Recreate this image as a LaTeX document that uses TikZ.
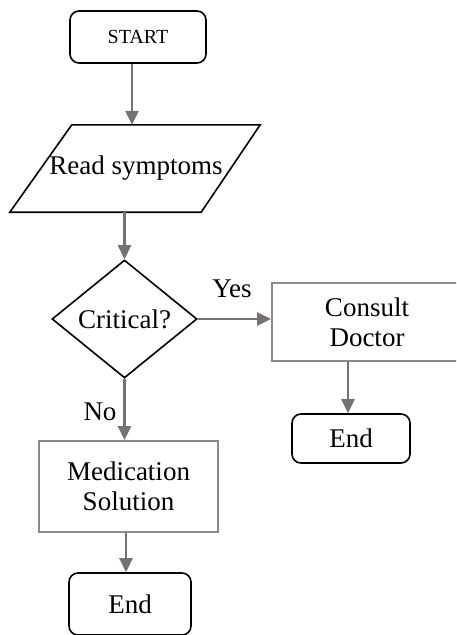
\documentclass[tikz,border=0pt]{standalone}
\usepackage{fontspec}
\setmainfont{Liberation Serif}
\usetikzlibrary{shapes.geometric,arrows.meta,calc}
\definecolor{arrgray}{HTML}{767171}
\definecolor{boxgray}{HTML}{8A8A8A}
\tikzset{
  term/.style={draw=black, line width=1.6pt, rounded corners=9pt, rectangle, inner sep=0pt, font=\fontsize{27}{30}\selectfont},
  procbox/.style={draw=boxgray, line width=2pt, rectangle, inner sep=0pt, align=center, font=\fontsize{27}{30}\selectfont},
  decis/.style={draw=black, line width=1.6pt, diamond, inner sep=0pt, font=\fontsize{27}{30}\selectfont},
  plain/.style={inner sep=0pt, font=\fontsize{27}{30}\selectfont},
  arr/.style={draw=arrgray, line width=2.6pt, -{Triangle[length=14pt,width=13pt]}},
  lbl/.style={inner sep=0pt, font=\fontsize{27}{30}\selectfont}
}
\begin{document}
\begin{tikzpicture}[x=1pt,y=-1pt]
\useasboundingbox (0,0) rectangle (456,635);
\clip (0,0) rectangle (456,635);
% nodes
\node[term, minimum width=136pt, minimum height=52pt, font=\fontsize{20}{22}\selectfont] (start) at (138,37) {START};
\node[plain, minimum width=250pt, minimum height=87pt] (read) at (135,168.5) {\hspace*{2pt}Read symptoms};
\draw[line width=1.6pt, line join=miter] ($(read.north west)+(62,0)$) -- (read.north east) -- ($(read.south east)+(-59,0)$) -- (read.south west) -- cycle;
\node[decis, minimum width=145pt, minimum height=118pt] (crit) at (124.5,319) {Critical?};
\node[procbox, minimum width=190pt, minimum height=78pt] (consult) at (367,322) {Consult\\Doctor};
\node[term, minimum width=118pt, minimum height=49pt] (end1) at (351,438.5) {End};
\node[procbox, minimum width=179pt, minimum height=91pt] (med) at (128.5,486.5) {Medication\\Solution};
\node[term, minimum width=122pt, minimum height=62pt] (end2) at (130,604) {End};
% connectors
\draw[arr] ([xshift=-6pt]start.south) -- ([xshift=-6pt]start.south |- read.north);
\draw[arr] (crit.north |- read.south) -- (crit.north);
\draw[arr] (crit.east) -- (crit.east -| consult.west);
\draw[arr] ([xshift=-19pt]consult.south) -- ([xshift=-19pt]consult.south |- end1.north);
\draw[arr] (crit.south) -- (crit.south |- med.north);
\draw[arr] ([xshift=-2.5pt]med.south) -- ([xshift=-2.5pt]med.south |- end2.north);
% labels
\node[lbl] (yes) at (232,289) {Yes};
\node[lbl] (no) at (100,412) {No};
\end{tikzpicture}
\end{document}
